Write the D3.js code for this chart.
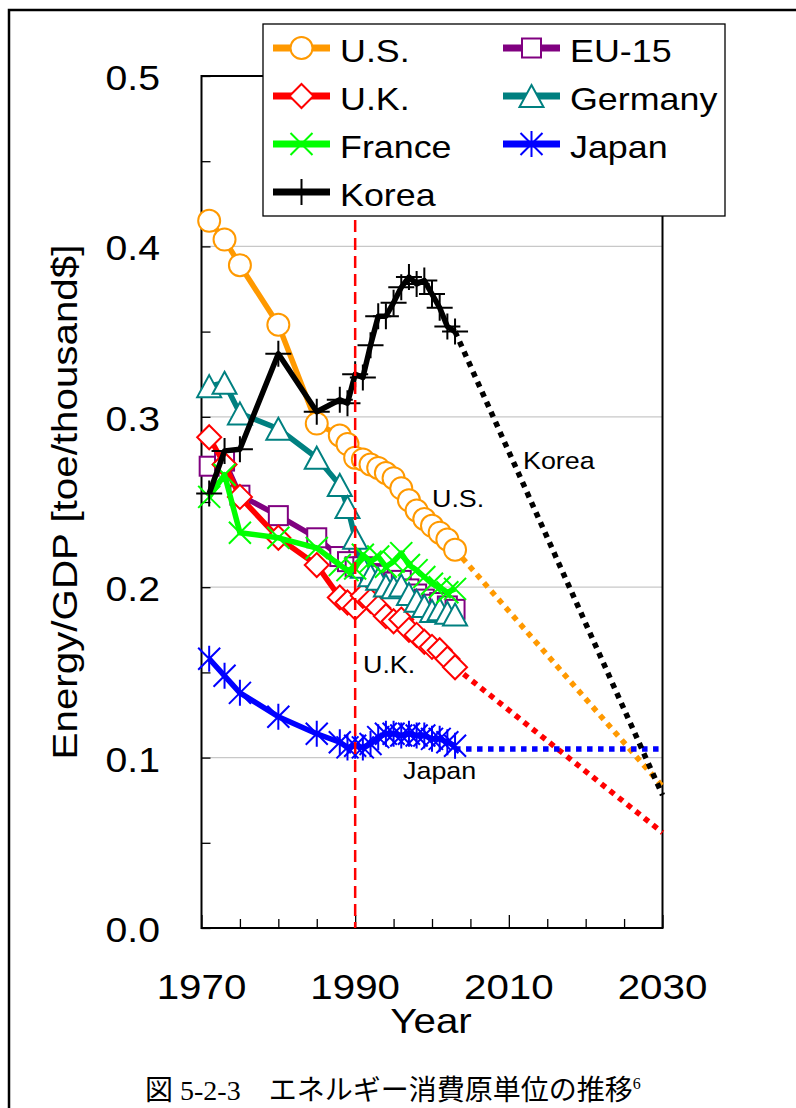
<!DOCTYPE html>
<html>
<head>
<meta charset="utf-8">
<script src="https://cdn.jsdelivr.net/npm/d3@7"></script>
<style>
  body { margin: 0; background: #fff; }
  svg { display: block; }
  text { font-family: "Liberation Sans", Arial, sans-serif; fill: #000; }
</style>
</head>
<body>
<svg width="796" height="1108"></svg>
<script>
// years with observations
const years = [1971, 1973, 1975, 1980, 1985, 1988, 1989, 1990, 1991, 1992, 1993,
  1994, 1995, 1996, 1997, 1998, 1999, 2000, 2001, 2002, 2003];

const us = [0.415, 0.404, 0.389, 0.354, 0.296, 0.289, 0.284, 0.276, 0.275, 0.272, 0.270,
  0.267, 0.264, 0.258, 0.251, 0.245, 0.240, 0.236, 0.232, 0.228, 0.222];
const eu15 = [0.271, 0.274, 0.254, 0.242, 0.229, 0.218, 0.215, 0.212, 0.212, 0.208, 0.207,
  0.203, 0.203, 0.204, 0.199, 0.196, 0.193, 0.190, 0.191, 0.189, 0.187];
const uk = [0.288, 0.272, 0.253, 0.229, 0.213, 0.194, 0.191, 0.188, 0.195, 0.192, 0.188,
  0.183, 0.180, 0.181, 0.175, 0.172, 0.168, 0.165, 0.163, 0.158, 0.153];
const germany = [0.318, 0.320, 0.302, 0.293, 0.276, 0.260, 0.247, 0.229, 0.212, 0.207, 0.205,
  0.201, 0.200, 0.201, 0.196, 0.192, 0.189, 0.186, 0.187, 0.185, 0.184];
const france = [0.253, 0.266, 0.232, 0.229, 0.223, 0.213, 0.210, 0.211, 0.219, 0.215, 0.218,
  0.212, 0.215, 0.220, 0.213, 0.210, 0.206, 0.202, 0.200, 0.197, 0.199];
const japan = [0.158, 0.148, 0.138, 0.124, 0.114, 0.109, 0.106, 0.107, 0.106, 0.108, 0.112,
  0.114, 0.114, 0.113, 0.114, 0.113, 0.113, 0.111, 0.111, 0.109, 0.107];
const korea = [0.255, 0.280, 0.281, 0.337, 0.303, 0.310, 0.308, 0.325, 0.323, 0.342, 0.359,
  0.359, 0.367, 0.376, 0.382, 0.378, 0.380, 0.372, 0.364, 0.353, 0.350];

// projections to 2030 (dotted)
const forecastYears = [2003, 2030];
const usForecast = [0.222, 0.083];
const ukForecast = [0.153, 0.056];
const japanForecast = [0.105, 0.105];
const koreaForecast = [0.350, 0.078];

const xTickLabels = [1970, 1990, 2010, 2030];
const yTickLabels = [0.0, 0.1, 0.2, 0.3, 0.4, 0.5];
const refYear = 1990;

const series = [
  {name: "U.S.", values: us, color: "#FF9900", marker: "circle", forecast: usForecast},
  {name: "EU-15", values: eu15, color: "#800080", marker: "square"},
  {name: "U.K.", values: uk, color: "#FF0000", marker: "diamond", forecast: ukForecast},
  {name: "Germany", values: germany, color: "#008080", marker: "triangle"},
  {name: "France", values: france, color: "#00FF00", marker: "x"},
  {name: "Japan", values: japan, color: "#0000FF", marker: "star", forecast: japanForecast},
  {name: "Korea", values: korea, color: "#000000", marker: "plus", forecast: koreaForecast}
];

const svg = d3.select("svg");
const SX = 1.12; // the source font is set a little wide

const x = d3.scaleLinear().domain([1970, 2030]).range([201.5, 662.5]);
const y = d3.scaleLinear().domain([0, 0.5]).range([928, 76]);

function label(parent, px, py, str, size, anchor = "start", rot = 0) {
  return parent.append("text")
    .attr("transform", `translate(${px},${py}) rotate(${rot}) scale(${SX},1)`)
    .attr("font-size", size)
    .attr("text-anchor", anchor)
    .text(str);
}

function drawMarker(g, type, color) {
  const sw = 2;
  if (type === "circle") {
    g.append("circle").attr("r", 11).attr("fill", "#fff").attr("stroke", color).attr("stroke-width", sw);
  } else if (type === "square") {
    g.append("rect").attr("x", -9.5).attr("y", -9.5).attr("width", 19).attr("height", 19)
      .attr("fill", "#fff").attr("stroke", color).attr("stroke-width", sw);
  } else if (type === "diamond") {
    g.append("path").attr("d", "M0,-12L12,0L0,12L-12,0Z")
      .attr("fill", "#fff").attr("stroke", color).attr("stroke-width", sw);
  } else if (type === "triangle") {
    g.append("path").attr("d", "M0,-11L12,11L-12,11Z")
      .attr("fill", "#fff").attr("stroke", color).attr("stroke-width", sw);
  } else if (type === "x") {
    g.append("path").attr("d", "M-11,-11L11,11M-11,11L11,-11")
      .attr("fill", "none").attr("stroke", color).attr("stroke-width", sw);
  } else if (type === "star") {
    g.append("path").attr("d", "M-11,-11L11,11M-11,11L11,-11M0,-13V13")
      .attr("fill", "none").attr("stroke", color).attr("stroke-width", sw);
  } else if (type === "plus") {
    g.append("path").attr("d", "M-13,0H13M0,-13V13")
      .attr("fill", "none").attr("stroke", color).attr("stroke-width", sw);
  }
}

// page border
svg.append("rect")
  .attr("x", 9).attr("y", 10).attr("width", 900).attr("height", 1200)
  .attr("fill", "none").attr("stroke", "#000").attr("stroke-width", 2.5);

// gridlines
svg.append("g").selectAll("line")
  .data(yTickLabels.filter(d => d > 0 && d < 0.5))
  .join("line")
  .attr("x1", x(1970)).attr("x2", x(2030))
  .attr("y1", d => y(d)).attr("y2", d => y(d))
  .attr("stroke", "#c8c8c8").attr("stroke-width", 1.3);

// axes: inward ticks
const yAxis = svg.append("g")
  .attr("transform", `translate(${x(1970)},0)`)
  .call(d3.axisLeft(y).tickValues(d3.range(0, 0.501, 0.05)).tickSizeInner(-9).tickSizeOuter(0).tickFormat(""));
const xAxis = svg.append("g")
  .attr("transform", `translate(0,${y(0)})`)
  .call(d3.axisBottom(x).tickValues(d3.range(1970, 2031, 5)).tickSizeInner(-9).tickSizeOuter(0).tickFormat(""));
xAxis.selectAll(".tick line").attr("y2", d => (d - 1970) % 20 === 0 ? -13 : -9);
[yAxis, xAxis].forEach(a => {
  a.select(".domain").remove();
  a.selectAll(".tick line").attr("stroke", "#000").attr("stroke-width", 1.3);
});

// plot frame
svg.append("rect")
  .attr("x", x(1970)).attr("y", y(0.5))
  .attr("width", x(2030) - x(1970)).attr("height", y(0) - y(0.5))
  .attr("fill", "none").attr("stroke", "#000").attr("stroke-width", 2);

// tick labels
yTickLabels.forEach(v => label(svg, 160, y(v) + 14, d3.format(".1f")(v), 35, "end"));
xTickLabels.forEach(v => label(svg, x(v), 999, String(v), 36, "middle"));
label(svg, 431, 1033, "Year", 36, "middle");
label(svg, 77, 502, "Energy/GDP [toe/thousand$]", 36, "middle", -90);

// series
const line = d3.line().x(d => x(d[0])).y(d => y(d[1]));
const plot = svg.append("g");

series.forEach(s => {
  const g = plot.append("g");
  if (s.forecast) {
    g.append("path")
      .attr("d", line(d3.zip(forecastYears, s.forecast)))
      .attr("fill", "none").attr("stroke", s.color)
      .attr("stroke-width", 5.5).attr("stroke-dasharray", "5.5,5.5");
  }
  g.append("path")
    .attr("d", line(d3.zip(years, s.values)))
    .attr("fill", "none").attr("stroke", s.color)
    .attr("stroke-width", 5.5).attr("stroke-linejoin", "round");
  g.selectAll("g.mk")
    .data(d3.zip(years, s.values))
    .join("g")
    .attr("class", "mk")
    .attr("transform", d => `translate(${x(d[0])},${y(d[1])})`)
    .each(function() { drawMarker(d3.select(this), s.marker, s.color); });
});

// 1990 reference line
svg.append("line")
  .attr("x1", x(refYear)).attr("x2", x(refYear))
  .attr("y1", y(0.5)).attr("y2", y(0))
  .attr("stroke", "#FF0000").attr("stroke-width", 2.5).attr("stroke-dasharray", "12,6");

// inline labels
label(svg, 523, 469, "Korea", 24);
label(svg, 432, 507, "U.S.", 24);
label(svg, 363, 673, "U.K.", 24);
label(svg, 403, 779, "Japan", 24);

// legend
const legend = svg.append("g");
legend.append("rect")
  .attr("x", 263).attr("y", 24).attr("width", 462).attr("height", 192)
  .attr("fill", "#fff").attr("stroke", "#000").attr("stroke-width", 1.3);

const legendOrder = ["U.S.", "EU-15", "U.K.", "Germany", "France", "Japan", "Korea"];
legendOrder.forEach((name, i) => {
  const s = series.find(d => d.name === name);
  const col = i % 2, row = Math.floor(i / 2);
  const lx = col === 0 ? 273 : 503;
  const ly = 48 + row * 48;
  const item = legend.append("g").attr("transform", `translate(${lx},${ly})`);
  item.append("line").attr("x1", 0).attr("x2", 57)
    .attr("stroke", s.color).attr("stroke-width", 7);
  drawMarker(item.append("g").attr("transform", "translate(28.5,0)"), s.marker, s.color);
  label(item, 67, 13.5, name, 32);
});

// caption
const cap = svg.append("text")
  .attr("x", 145).attr("y", 1100)
  .attr("font-size", 28)
  .style("font-family", "'Liberation Serif', 'Noto Sans CJK JP', serif");
cap.append("tspan").text("図 5-2-3　エネルギー消費原単位の推移");
cap.append("tspan").attr("font-size", 16).attr("dy", -11).text("6");
</script>
</body>
</html>
